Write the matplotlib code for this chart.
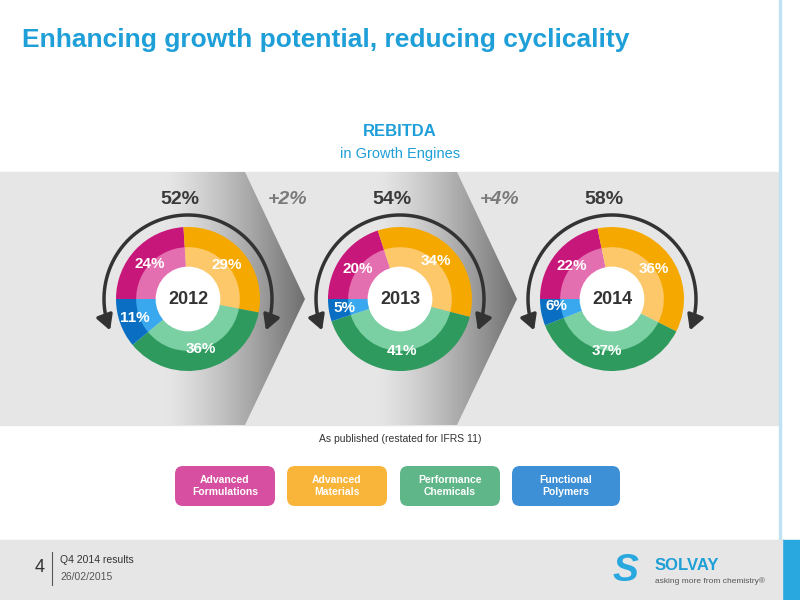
import numpy as np
import matplotlib
matplotlib.use("Agg")
import matplotlib.pyplot as plt
from matplotlib.patches import Rectangle, Polygon, FancyBboxPatch, Circle, FancyArrowPatch
from matplotlib.path import Path

plt.rcParams['font.family'] = ['Liberation Sans', 'DejaVu Sans']

years = ["2012", "2013", "2014"]
totals = ["52%", "54%", "58%"]
deltas = ["+2%", "+4%"]
segments = ["Advanced\nFormulations", "Advanced\nMaterials", "Performance\nChemicals", "Functional\nPolymers"]
shares = {"2012": [24, 29, 36, 11], "2013": [20, 34, 41, 5], "2014": [22, 36, 37, 6]}
outer_cols = ["#c8177a", "#f5a800", "#2e9a5e", "#0a6fc2"]
inner_cols = ["#e46fb0", "#fdc86a", "#7ad0a2", "#3aa8ee"]
legend_cols = ["#d64fa0", "#f9b43a", "#5fb688", "#3d8fd6"]

fig = plt.figure(figsize=(8, 6), dpi=100)
ax = fig.add_axes([0, 0, 1, 1])
ax.set_xlim(0, 800); ax.set_ylim(600, 0); ax.axis("off")

ax.text(22, 40, "Enhancing growth potential, reducing cyclicality", color="#1e9fd8",
        fontsize=19, fontweight="bold", va="center")
ax.add_patch(Rectangle((779, 0), 2, 540, color="#bfe3f3"))
ax.add_patch(Rectangle((782, 540), 18, 60, color="#29a8e0"))
ax.add_patch(Rectangle((0, 540), 782, 60, color="#e6e6e6"))
ax.text(400, 132, "REBITDA", color="#1e9fd8", fontsize=12, fontweight="bold", ha="center", va="center")
ax.text(400, 154, "in Growth Engines", color="#1e9fd8", fontsize=10.5, ha="center", va="center")

# band
ax.add_patch(Rectangle((0, 172), 780, 253, color="#e6e6e6", zorder=0))
grad = np.linspace(0, 1, 256)[None, :] ** 1.3
cmap = matplotlib.colors.LinearSegmentedColormap.from_list("g", ["#e6e6e6", "#6f6f6f"])
for dx in [0, 212]:
    poly = Polygon([(165+dx, 172), (245+dx, 172), (305+dx, 299), (245+dx, 425), (165+dx, 425)],
                   closed=True, facecolor="none", edgecolor="none")
    ax.add_patch(poly)
    im = ax.imshow(grad, cmap=cmap, extent=(165+dx, 305+dx, 425, 172), aspect="auto", zorder=1)
    im.set_clip_path(poly)
ax.set_xlim(0, 800); ax.set_ylim(600, 0)

centers = [188, 400, 612]
for i, (cx, y) in enumerate(zip(centers, years)):
    ax.text(cx - 8, 200, totals[i], fontsize=14, fontweight="bold", color="#3a3a3a", ha="center", va="center")
    r = 84
    th = np.radians(np.linspace(202, -22, 80))
    verts = list(zip(cx + r*np.cos(th), 299 - r*np.sin(th)))
    path = Path(verts)
    ax.add_patch(FancyArrowPatch(path=path, arrowstyle="<|-|>,head_width=5,head_length=9",
                                 lw=2.5, color="#333333", zorder=3))
    pax = fig.add_axes([(cx-72)/800, 1-(299+72)/600, 144/800, 144/600])
    v = shares[y]
    pax.pie(v, radius=1, colors=outer_cols, startangle=180, counterclock=False,
            wedgeprops=dict(width=0.3, edgecolor="none"))
    pax.pie(v, radius=0.72, colors=inner_cols, startangle=180, counterclock=False,
            wedgeprops=dict(width=0.28, edgecolor="none"))
    pax.add_patch(Circle((0, 0), 0.44, color="white"))
    pax.text(0, 0, y, fontsize=13, fontweight="bold", color="#333333", ha="center", va="center")
    pax.set_xlim(-1, 1); pax.set_ylim(-1, 1); pax.set_aspect("equal"); pax.axis("off")
    cum = np.cumsum([0] + v)
    for k, val in enumerate(v):
        mid = np.radians(180 - 3.6*(cum[k] + val/2))
        rr = 0.72 if k != 3 else 0.78
        pax.text(rr*np.cos(mid), rr*np.sin(mid), f"{val}%", color="white", fontsize=11,
                 fontweight="bold", ha="center", va="center")

for j, d in enumerate(deltas):
    ax.text(288 + 212*j, 200, d, fontsize=14, fontweight="bold", fontstyle="italic", color="#7a7a7a",
            ha="center", va="center")

ax.text(400, 439, "As published (restated for IFRS 11)", fontsize=7.5, color="#333333", ha="center", va="center")
xs = [175, 287, 400, 512]
ws = [100, 100, 100, 108]
for x, w, s, c in zip(xs, ws, segments, legend_cols):
    ax.add_patch(FancyBboxPatch((x+4, 470), w-8, 32, boxstyle="round,pad=4,rounding_size=8", color=c, ec="none"))
    ax.text(x + w/2, 486, s, fontsize=7.5, fontweight="bold", color="white", ha="center", va="center", linespacing=1.3)

ax.text(40, 568, "4", fontsize=13, color="#333333", ha="center", va="center")
ax.plot([52, 52], [552, 585], color="#555555", lw=0.8)
ax.text(60, 560, "Q4 2014 results", fontsize=7.5, color="#333333", va="center")
ax.text(60, 577, "26/02/2015", fontsize=7.5, color="#555555", va="center")
ax.text(655, 566, "SOLVAY", fontsize=12, fontweight="bold", color="#1e9fd8", va="center")
ax.text(655, 581, "asking more from chemistry\u00ae", fontsize=6, color="#555555", va="center")
ax.text(625, 571, "S", fontsize=28, fontweight="bold", color="#29a8e0", ha="center", va="center", fontstyle="italic")

fig.savefig("out.png", dpi=100)
